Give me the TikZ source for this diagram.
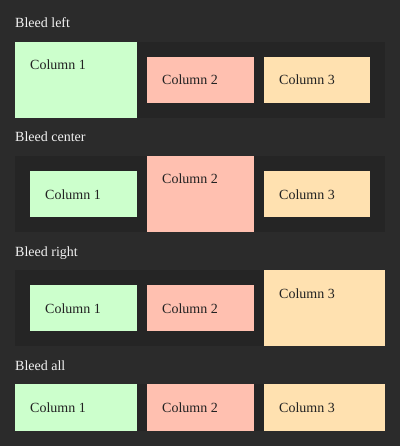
\documentclass[tikz,border=0pt]{standalone}
\usepackage{fontspec}
\setmainfont{Liberation Serif}
\definecolor{bg}{HTML}{2B2B2B}
\definecolor{cont}{HTML}{252525}
\definecolor{cgreen}{HTML}{CCFFCC}
\definecolor{csalmon}{HTML}{FFC0B0}
\definecolor{cwheat}{HTML}{FFE1B0}
\definecolor{ctext}{HTML}{222222}
\definecolor{lbl}{HTML}{F2F2F2}
\begin{document}
\begin{tikzpicture}[x=1pt,y=-1pt,
  box/.style 2 args={anchor=north west, inner sep=0pt, outer sep=0pt, minimum width=#1pt, minimum height=#2pt},
  coltext/.style={anchor=base west, inner sep=0pt, text=ctext, font=\fontsize{14}{16}\selectfont},
  heading/.style={anchor=base west, inner sep=0pt, text=lbl, font=\fontsize{14}{16}\selectfont}]
\fill[bg] (0,0) rectangle (400,446);
\useasboundingbox (0,0) rectangle (400,446);
% Bleed left
\node[heading] (h1) at (15,28) {Bleed left};
\node[box={370}{76}, fill=cont] (k1) at (15,42) {};
\node[box={122}{76}, fill=cgreen] (a1) at (15,42) {};
\node[box={107}{46}, fill=csalmon] (b1) at (147,57) {};
\node[box={106}{46}, fill=cwheat] (c1) at (264,57) {};
\node[coltext] (ta1) at ([shift={(15,28)}]a1.north west) {Column 1};
\node[coltext] (tb1) at ([shift={(15,28)}]b1.north west) {Column 2};
\node[coltext] (tc1) at ([shift={(15,28)}]c1.north west) {Column 3};
% Bleed center
\node[heading] (h2) at (15,142) {Bleed center};
\node[box={370}{76}, fill=cont] (k2) at (15,156) {};
\node[box={107}{46}, fill=cgreen] (a2) at (30,171) {};
\node[box={107}{76}, fill=csalmon] (b2) at (147,156) {};
\node[box={106}{46}, fill=cwheat] (c2) at (264,171) {};
\node[coltext] (ta2) at ([shift={(15,28)}]a2.north west) {Column 1};
\node[coltext] (tb2) at ([shift={(15,28)}]b2.north west) {Column 2};
\node[coltext] (tc2) at ([shift={(15,28)}]c2.north west) {Column 3};
% Bleed right
\node[heading] (h3) at (15,256) {Bleed right};
\node[box={370}{76}, fill=cont] (k3) at (15,270) {};
\node[box={107}{46}, fill=cgreen] (a3) at (30,285) {};
\node[box={107}{46}, fill=csalmon] (b3) at (147,285) {};
\node[box={121}{76}, fill=cwheat] (c3) at (264,270) {};
\node[coltext] (ta3) at ([shift={(15,28)}]a3.north west) {Column 1};
\node[coltext] (tb3) at ([shift={(15,28)}]b3.north west) {Column 2};
\node[coltext] (tc3) at ([shift={(15,28)}]c3.north west) {Column 3};
% Bleed all
\node[heading] (h4) at (15,370) {Bleed all};
\node[box={370}{47}, fill=cont] (k4) at (15,384) {};
\node[box={122}{47}, fill=cgreen] (a4) at (15,384) {};
\node[box={107}{47}, fill=csalmon] (b4) at (147,384) {};
\node[box={121}{47}, fill=cwheat] (c4) at (264,384) {};
\node[coltext] (ta4) at ([shift={(15,28)}]a4.north west) {Column 1};
\node[coltext] (tb4) at ([shift={(15,28)}]b4.north west) {Column 2};
\node[coltext] (tc4) at ([shift={(15,28)}]c4.north west) {Column 3};
\end{tikzpicture}
\end{document}
